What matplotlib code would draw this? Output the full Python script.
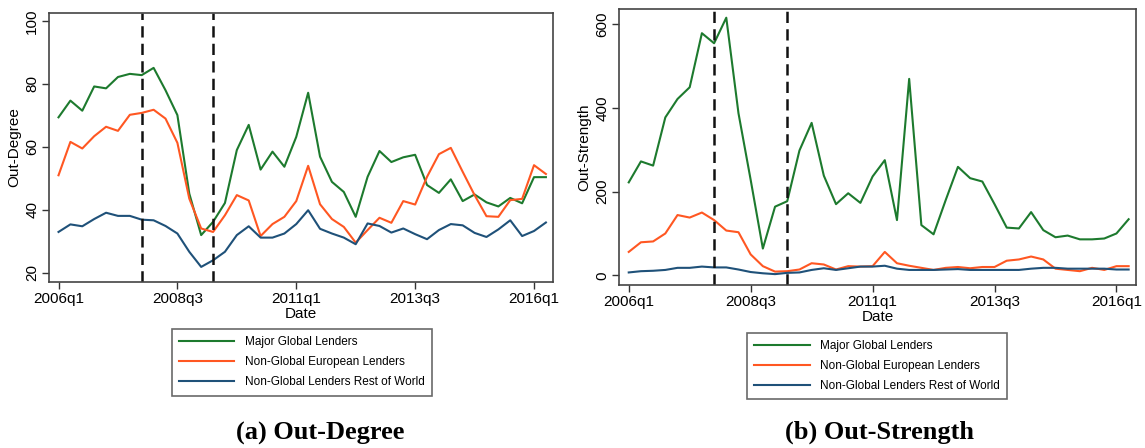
import numpy as np
import matplotlib
matplotlib.use("Agg")
import matplotlib.pyplot as plt

# quarters 2006q1 .. 2016q2
quarters = [f"{2006 + i // 4}q{i % 4 + 1}" for i in range(42)]
tick_labels = ["2006q1", "2008q3", "2011q1", "2013q3", "2016q1"]
crisis_marks = ["2007q4", "2009q2"]

# (a) Out-Degree
deg_global = [69.4, 74.7, 71.5, 79.2, 78.6, 82.2, 83.2, 82.8, 85.1, 78.0,
              70.1, 45.2, 32.0, 36.2, 42.2, 59.0, 67.0, 52.8, 58.5, 53.7,
              63.2, 77.2, 56.9, 48.9, 45.7, 37.8, 50.5, 58.7, 55.2, 56.7,
              57.5, 47.9, 45.4, 49.7, 42.8, 44.9, 42.4, 41.1, 43.8, 42.1,
              50.4, 50.4]
deg_europe = [51.0, 61.6, 59.5, 63.4, 66.4, 65.1, 70.2, 70.8, 71.8, 69.0,
              61.3, 43.6, 34.1, 33.0, 38.3, 44.7, 43.0, 31.7, 35.5, 37.8,
              42.8, 54.0, 41.8, 37.1, 34.6, 29.6, 33.6, 37.5, 35.9, 42.8,
              41.7, 50.5, 57.7, 59.7, 52.1, 44.7, 38.0, 37.8, 43.1, 43.5,
              54.2, 51.4]
deg_row = [33.0, 35.4, 34.8, 37.1, 39.1, 38.1, 38.1, 36.9, 36.7, 34.9,
           32.5, 26.7, 21.9, 24.0, 26.7, 32.0, 34.8, 31.2, 31.2, 32.5,
           35.5, 39.9, 34.0, 32.5, 31.2, 29.1, 35.7, 34.9, 32.8, 34.1,
           32.3, 30.7, 33.6, 35.5, 35.1, 32.7, 31.4, 33.8, 36.7, 31.7,
           33.3, 36.0]

# (b) Out-Strength
str_global = [222, 272, 262, 377, 421, 449, 578, 554, 615, 387,
              228, 64, 164, 177, 298, 364, 238, 170, 196, 173,
              236, 275, 132, 469, 120, 98, 180, 259, 232, 224,
              170, 114, 112, 151, 108, 91, 95, 86, 86, 88,
              100, 134]
str_europe = [56, 79, 81, 100, 144, 138, 150, 132, 107, 103,
              50, 22, 9, 10, 14, 29, 26, 14, 22, 21,
              22, 56, 29, 23, 18, 13, 18, 20, 17, 20,
              20, 35, 38, 45, 38, 16, 13, 10, 18, 13,
              22, 22]
str_row = [7, 10, 11, 13, 18, 18, 21, 19, 19, 14,
           8, 5, 3, 6, 7, 13, 17, 13, 17, 21,
           21, 23, 16, 13, 13, 13, 14, 15, 13, 13,
           13, 13, 13, 16, 18, 18, 16, 16, 16, 16,
           14, 14]

series_names = ["Major Global Lenders", "Non-Global European Lenders",
                "Non-Global Lenders Rest of World"]
colors = ["#1d7a2e", "#ff5722", "#1f5179"]

plt.rcParams["font.family"] = ["Liberation Sans", "DejaVu Sans"]

fig = plt.figure(figsize=(11.45, 4.48), dpi=100)
ax1 = fig.add_axes([0.0428, 0.3705, 0.4402, 0.601])
ax2 = fig.add_axes([0.5406, 0.3638, 0.4515, 0.6154])

x = np.arange(len(quarters))
tick_pos = [quarters.index(t) for t in tick_labels]
mark_pos = [quarters.index(t) for t in crisis_marks]


def panel(ax, data, ylabel, yticks, ylim, legend_anchor):
    for vals, name, c in zip(data, series_names, colors):
        ax.plot(x, vals, color=c, lw=1.5, label=name)
    for m in mark_pos:
        ax.axvline(m, color="#111111", lw=1.8, ls=(0, (4.5, 2.5)))
    ax.set_xlim(-0.8, 41.6)
    ax.set_ylim(*ylim)
    ax.set_xticks(tick_pos)
    ax.set_xticklabels(tick_labels, fontsize=11)
    ax.set_yticks(yticks)
    ax.set_yticklabels([str(v) for v in yticks], fontsize=11, rotation=90,
                       va="center")
    ax.set_xlabel("Date", fontsize=11, labelpad=1)
    ax.set_ylabel(ylabel, fontsize=11, labelpad=3)
    ax.tick_params(length=5, width=1, color="#333333", pad=2)
    for s in ax.spines.values():
        s.set_color("#444444")
        s.set_linewidth(1.2)
    leg = fig.legend(*ax.get_legend_handles_labels(), loc="upper center",
                     bbox_to_anchor=legend_anchor, fontsize=8.5,
                     frameon=True, fancybox=False, handlelength=4.7,
                     labelspacing=0.68, borderpad=0.6, handletextpad=0.9,
                     borderaxespad=0)
    leg.get_frame().set_edgecolor("#444444")
    leg.get_frame().set_linewidth(1.2)


panel(ax1, [deg_global, deg_europe, deg_row], "Out-Degree",
      [20, 40, 60, 80, 100], (17.1, 102.6), (0.2635, 0.265))
panel(ax2, [str_global, str_europe, str_row], "Out-Strength",
      [0, 200, 400, 600], (-23, 635), (0.766, 0.257))

fig.text(0.2795, 0.033, "(a) Out-Degree", ha="center", va="center",
         fontsize=19, fontweight="bold", family="Liberation Serif")
fig.text(0.768, 0.035, "(b) Out-Strength", ha="center", va="center",
         fontsize=19, fontweight="bold", family="Liberation Serif")

fig.savefig("out.png", dpi=100)
